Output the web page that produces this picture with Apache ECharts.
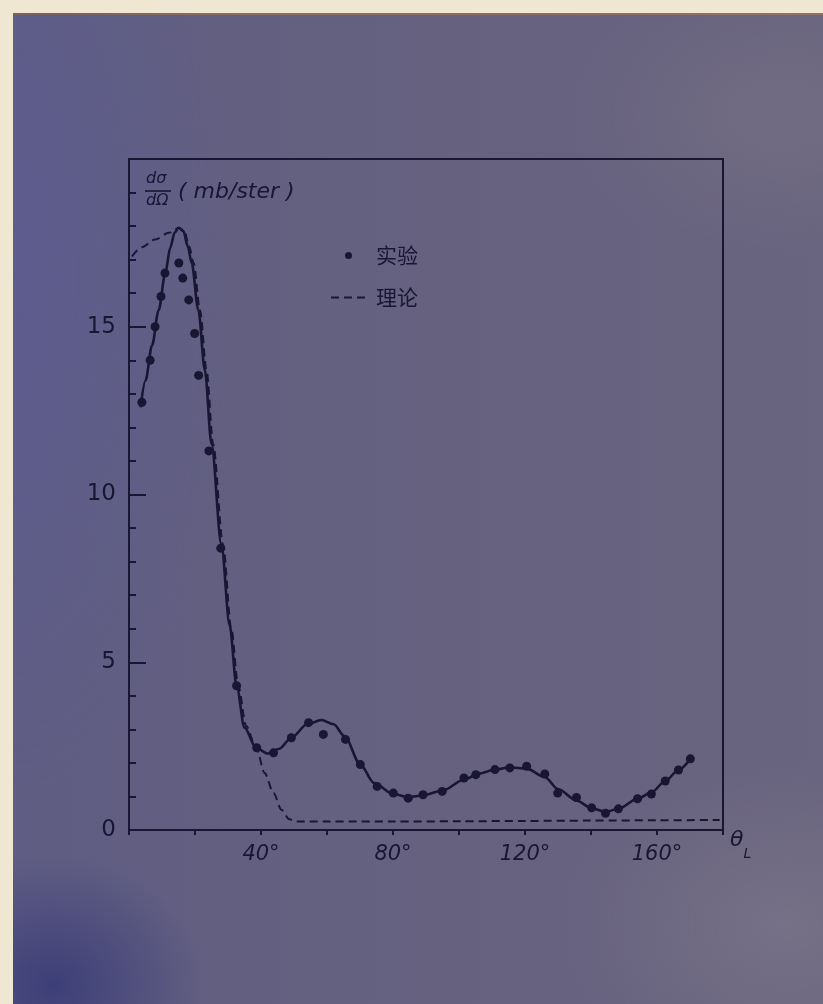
<!DOCTYPE html>
<html>
<head>
<meta charset="utf-8">
<script src="https://cdn.jsdelivr.net/npm/echarts@6/dist/echarts.min.js"></script>
<style>
  html, body { margin: 0; padding: 0; }
  body { width: 823px; height: 1004px; background: #efe7d2; position: relative; overflow: hidden; }
  #paper {
    position: absolute; left: 13px; top: 13px; right: 0; bottom: 0;
    background:
      radial-gradient(ellipse 150px 130px at 40px 970px, rgba(45,50,115,0.7), rgba(45,50,115,0) 100%),
      radial-gradient(ellipse 220px 520px at 0px 260px, rgba(85,90,165,0.3), rgba(85,90,165,0) 100%),
      radial-gradient(ellipse 220px 160px at 770px 910px, rgba(150,142,150,0.3), rgba(150,142,150,0) 100%),
      radial-gradient(ellipse 200px 140px at 760px 100px, rgba(140,132,140,0.25), rgba(140,132,140,0) 100%),
      linear-gradient(90deg, #605d84 0%, #64607f 40%, #69647f 100%);
    border-top: 2px solid rgba(170,120,70,0.55);
  }
  #chart { position: absolute; left: 0; top: 0; width: 823px; height: 1004px; }
</style>
</head>
<body>
<div id="paper"></div>
<div id="chart"></div>
<script>
// ---- data ----
// experimental points (angle in degrees, dσ/dΩ in mb/ster)
const expAngles = [3.9, 6.4, 7.9, 9.7, 10.9, 15.1, 16.3, 18.1, 19.9, 21.1, 24.2, 27.8, 32.6, 38.7, 43.8, 49.2, 54.4, 58.9, 65.6, 70.1, 75.2, 80.1, 84.6, 89.1, 94.9, 101.5, 105.1, 110.9, 115.4, 120.5, 126.0, 129.9, 135.6, 140.2, 144.4, 148.3, 154.1, 158.3, 162.5, 166.5, 170.1];
const expValues = [12.75, 14.0, 15.0, 15.9, 16.6, 16.9, 16.45, 15.8, 14.8, 13.55, 11.3, 8.4, 4.3, 2.45, 2.3, 2.75, 3.2, 2.85, 2.7, 1.95, 1.3, 1.1, 0.95, 1.05, 1.15, 1.55, 1.65, 1.8, 1.85, 1.9, 1.67, 1.1, 0.97, 0.66, 0.5, 0.63, 0.93, 1.07, 1.46, 1.79, 2.12];
// solid curve through the points
const fitAngles = [3.5, 5, 7, 9, 11, 12.5, 13.8, 15, 16.5, 17.8, 19, 21, 23, 25, 28, 30.5, 32.6, 35, 38.5, 42, 45.5, 49.2, 54, 58.3, 62, 65.3, 70.1, 74.3, 80, 84.6, 89, 94.9, 101.5, 106, 110.9, 115.4, 120.5, 126, 130, 135.6, 140.2, 144.4, 148.3, 154.1, 158.3, 162.5, 166.5, 170.1];
const fitValues = [12.6, 13.4, 14.45, 15.5, 16.6, 17.35, 17.8, 17.95, 17.85, 17.4, 16.9, 15.5, 13.7, 11.5, 8.5, 6.1, 4.3, 3.05, 2.45, 2.28, 2.42, 2.75, 3.15, 3.28, 3.15, 2.8, 1.95, 1.4, 1.08, 0.98, 1.03, 1.17, 1.5, 1.68, 1.8, 1.87, 1.83, 1.58, 1.22, 0.88, 0.65, 0.54, 0.63, 0.93, 1.12, 1.46, 1.79, 2.12];
// dashed theory curve
const theoryAngles = [0.9, 3.9, 7.9, 12.1, 15.2, 16.8, 18.2, 19.6, 21.5, 23.5, 25.5, 28.5, 31, 33.1, 35.5, 38.7, 41.1, 43.8, 46.2, 48.6, 50.7, 60, 80, 100, 120, 140, 160, 179];
const theoryValues = [17.1, 17.37, 17.6, 17.8, 17.95, 17.85, 17.4, 16.9, 15.5, 13.7, 11.5, 8.5, 6.0, 4.3, 3.1, 2.39, 1.7, 1.1, 0.6, 0.32, 0.25, 0.25, 0.25, 0.26, 0.27, 0.28, 0.29, 0.3];
// tick labels
const xTickValues = [40, 80, 120, 160];
const xTickLabels = ['40°', '80°', '120°', '160°'];
const yTickValues = [0, 5, 10, 15];
const yTickLabels = ['0', '5', '10', '15'];
const legendNames = ['实验', '理论'];

const ink = '#181633';
const zip = (a, b) => a.map((v, i) => [v, b[i]]);

const chart = echarts.init(document.getElementById('chart'), null, { renderer: 'canvas' });
chart.setOption({
  backgroundColor: 'transparent',
  animation: false,
  grid: {
    left: 129, right: 100, top: 159, bottom: 174,
    show: true, borderColor: ink, borderWidth: 2, backgroundColor: 'transparent'
  },
  legend: {
    data: [
      { name: legendNames[0], icon: 'circle' },
      { name: legendNames[1], itemStyle: { color: 'rgba(0,0,0,0)', borderColor: 'rgba(0,0,0,0)', borderWidth: 0, opacity: 0 } }
    ],
    orient: 'vertical',
    left: 325, top: 240,
    itemWidth: 35, itemHeight: 7, itemGap: 21,
    textStyle: { fontFamily: 'Noto Sans CJK SC', fontSize: 21, color: ink, padding: [0, 0, 0, 5] }
  },
  xAxis: {
    type: 'value', min: 0, max: 180, interval: 20,
    name: 'θ{sub|L}',
    nameLocation: 'end', nameGap: 7,
    nameTextStyle: {
      fontFamily: 'DejaVu Sans', fontStyle: 'italic', fontSize: 22, color: ink,
      padding: [20, 0, 0, 0],
      rich: { sub: { fontFamily: 'DejaVu Sans', fontStyle: 'italic', fontSize: 14, color: ink, padding: [28, 0, 0, 0] } }
    },
    axisLine: { show: true, lineStyle: { color: ink, width: 2 } },
    axisTick: { show: true, inside: false, length: 5, lineStyle: { color: ink, width: 2 } },
    axisLabel: {
      margin: 14, fontFamily: 'DejaVu Sans', fontStyle: 'italic', fontSize: 21, color: ink,
      formatter: v => { const i = xTickValues.indexOf(v); return i >= 0 ? xTickLabels[i] : ''; }
    },
    splitLine: { show: false }
  },
  yAxis: {
    type: 'value', min: 0, max: 20, interval: 5,
    axisLine: { show: true, lineStyle: { color: ink, width: 2 } },
    axisTick: { show: true, inside: true, length: 17, lineStyle: { color: ink, width: 2 } },
    minorTick: { show: true, splitNumber: 5, length: 7, lineStyle: { color: ink, width: 2 } },
    axisLabel: {
      margin: 13, fontFamily: 'DejaVu Sans', fontSize: 23, color: ink,
      formatter: v => { const i = yTickValues.indexOf(v); return i >= 0 ? yTickLabels[i] : ''; }
    },
    splitLine: { show: false }
  },
  graphic: [
    { type: 'text', left: 146, top: 171, style: { text: 'dσ', font: 'italic 16px DejaVu Sans', fill: ink } },
    { type: 'line', shape: { x1: 145, y1: 191, x2: 171, y2: 191 }, style: { stroke: ink, lineWidth: 1.6 } },
    { type: 'text', left: 146, top: 193, style: { text: 'dΩ', font: 'italic 16px DejaVu Sans', fill: ink } },
    { type: 'text', left: 178, top: 181, style: { text: '( mb/ster )', font: 'italic 22px DejaVu Sans', fill: ink } }
  ],
  series: [
    {
      name: 'fit', type: 'line', data: zip(fitAngles, fitValues),
      smooth: 0.3, smoothMonotone: 'x', symbol: 'none', silent: true,
      lineStyle: { color: ink, width: 2.6 }, z: 3
    },
    {
      name: legendNames[1], type: 'line', data: zip(theoryAngles, theoryValues),
      smooth: 0.3, smoothMonotone: 'x', symbol: 'none', silent: true,
      itemStyle: { color: ink },
      lineStyle: { color: ink, width: 2, type: [8, 5] }, z: 2
    },
    {
      name: legendNames[0], type: 'scatter', data: zip(expAngles, expValues),
      symbol: 'circle', symbolSize: 9, silent: true,
      itemStyle: { color: ink, opacity: 1 }, z: 4
    }
  ]
});
</script>
</body>
</html>
